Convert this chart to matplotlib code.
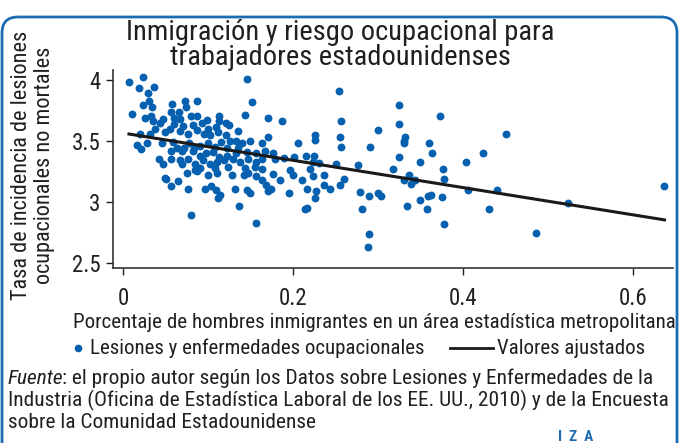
import numpy as np
import matplotlib.pyplot as plt
from matplotlib.patches import FancyBboxPatch
from matplotlib.lines import Line2D
from matplotlib.transforms import IdentityTransform

plt.rcParams['font.family'] = ['Roboto Condensed', 'DejaVu Sans']

# share of immigrant men in the metro area (x) and injury rate (y)
share_immig = [
    0.007, 0.023, 0.019, 0.037, 0.029, 0.146, 0.152, 0.011, 0.023, 0.030,
    0.034, 0.026, 0.033, 0.035, 0.058, 0.073, 0.087, 0.056, 0.066, 0.074,
    0.144, 0.170, 0.187, 0.047, 0.060, 0.067, 0.080, 0.087, 0.093, 0.099,
    0.113, 0.113, 0.121, 0.125, 0.109, 0.100, 0.060, 0.071, 0.082, 0.044,
    0.055, 0.049, 0.038, 0.020, 0.032, 0.067, 0.076, 0.087, 0.095, 0.102,
    0.112, 0.121, 0.135, 0.126, 0.133, 0.149, 0.164, 0.171, 0.206, 0.016,
    0.021, 0.028, 0.046, 0.059, 0.063, 0.072, 0.078, 0.084, 0.091, 0.100,
    0.108, 0.115, 0.122, 0.135, 0.140, 0.056, 0.069, 0.082, 0.091, 0.098,
    0.106, 0.113, 0.122, 0.133, 0.146, 0.157, 0.167, 0.177, 0.189, 0.201,
    0.042, 0.047, 0.057, 0.067, 0.076, 0.085, 0.094, 0.102, 0.111, 0.119,
    0.129, 0.138, 0.147, 0.157, 0.164, 0.179, 0.069, 0.091, 0.108, 0.124,
    0.144, 0.155, 0.164, 0.087, 0.100, 0.110, 0.128, 0.142, 0.147, 0.157,
    0.177, 0.185, 0.197, 0.200, 0.049, 0.051, 0.056, 0.065, 0.075, 0.077,
    0.097, 0.104, 0.109, 0.114, 0.112, 0.132, 0.146, 0.149, 0.163, 0.168,
    0.170, 0.174, 0.195, 0.137, 0.080, 0.156, 0.085,
    # right part
    0.254, 0.325, 0.373, 0.256, 0.325, 0.300, 0.226, 0.226, 0.255, 0.257,
    0.290, 0.332, 0.331, 0.331, 0.360, 0.363, 0.424, 0.215, 0.225, 0.224,
    0.231, 0.251, 0.276, 0.325, 0.349, 0.403, 0.318, 0.220, 0.211, 0.223,
    0.237, 0.260, 0.255, 0.236, 0.244, 0.227, 0.217, 0.226, 0.336, 0.330,
    0.339, 0.344, 0.376, 0.378, 0.406, 0.279, 0.289, 0.300, 0.304, 0.281,
    0.334, 0.349, 0.359, 0.362, 0.375, 0.358, 0.378, 0.214, 0.217, 0.289,
    0.288,
    0.450, 0.440, 0.431, 0.486, 0.523, 0.637,
]
injury_rate = [
    3.98, 4.02, 3.93, 3.94, 3.89, 4.01, 3.82, 3.72, 3.79, 3.83,
    3.78, 3.69, 3.70, 3.66, 3.80, 3.83, 3.83, 3.74, 3.74, 3.78,
    3.71, 3.69, 3.66, 3.68, 3.69, 3.68, 3.70, 3.70, 3.65, 3.67,
    3.70, 3.66, 3.65, 3.63, 3.61, 3.60, 3.64, 3.62, 3.63, 3.65,
    3.60, 3.57, 3.60, 3.56, 3.56, 3.58, 3.56, 3.59, 3.56, 3.55,
    3.57, 3.55, 3.58, 3.50, 3.50, 3.50, 3.48, 3.53, 3.48, 3.47,
    3.43, 3.48, 3.48, 3.49, 3.44, 3.44, 3.48, 3.44, 3.46, 3.48,
    3.45, 3.49, 3.44, 3.44, 3.48, 3.42, 3.42, 3.42, 3.38, 3.40,
    3.41, 3.37, 3.38, 3.40, 3.41, 3.40, 3.42, 3.40, 3.36, 3.37,
    3.35, 3.31, 3.35, 3.34, 3.35, 3.31, 3.34, 3.31, 3.33, 3.34,
    3.35, 3.33, 3.35, 3.33, 3.35, 3.35, 3.31, 3.28, 3.28, 3.29,
    3.28, 3.29, 3.27, 3.25, 3.22, 3.24, 3.22, 3.22, 3.24, 3.21,
    3.23, 3.18, 3.26, 3.22, 3.20, 3.19, 3.13, 3.17, 3.24, 3.11,
    3.11, 3.13, 3.10, 3.06, 3.03, 3.11, 3.10, 3.07, 3.18, 3.14,
    3.09, 3.11, 3.07, 2.97, 2.89, 2.83, 3.26,
    # right part
    3.91, 3.79, 3.70, 3.66, 3.64, 3.59, 3.55, 3.51, 3.53, 3.45,
    3.45, 3.53, 3.50, 3.48, 3.48, 3.40, 3.40, 3.38, 3.38, 3.33,
    3.32, 3.31, 3.30, 3.37, 3.33, 3.33, 3.27, 3.27, 3.18, 3.21,
    3.22, 3.19, 3.14, 3.14, 3.11, 3.09, 3.11, 3.03, 3.22, 3.18,
    3.15, 3.18, 3.27, 3.19, 3.10, 3.08, 3.05, 3.07, 3.05, 2.94,
    2.97, 3.02, 3.05, 3.06, 3.04, 2.94, 2.82, 2.94, 2.95, 2.74,
    2.63,
    3.56, 3.10, 2.94, 2.75, 2.99, 3.13,
]

# fitted line
fit_intercept = 3.564
fit_slope = -1.115

x_ticks = [0, 0.2, 0.4, 0.6]
x_ticklabels = ['0', '0.2', '0.4', '0.6']
y_ticks = [2.5, 3, 3.5, 4]
y_ticklabels = ['2.5', '3', '3.5', '4']

title = 'Inmigración y riesgo ocupacional para\ntrabajadores estadounidenses'
ylab = 'Tasa de incidencia de lesiones\nocupacionales no mortales'
xlab = 'Porcentaje de hombres inmigrantes en un área estadística metropolitana'
leg_labels = ['Lesiones y enfermedades ocupacionales', 'Valores ajustados']
source_lines = [': el propio autor según los Datos sobre Lesiones y Enfermedades de la',
                'Industria (Oficina de Estadística Laboral de los EE. UU., 2010) y de la Encuesta',
                'sobre la Comunidad Estadounidense']

blue = '#0560b0'
txt = '#231f20'
fit_col = '#1a1a1a'

x = np.array(share_immig)
y = np.array(injury_rate)

fig = plt.figure(figsize=(6.8, 4.43), dpi=100)
W, H = 680, 443
ax = fig.add_axes([113/W, 1-268/H, (673-113)/W, (268-70)/H])

ax.scatter(x, y, s=32, color=blue, linewidths=0, zorder=2)
xl = np.array([x.min(), x.max()])
ax.plot(xl, fit_intercept + fit_slope*xl, color=fit_col, lw=2.2, zorder=3)

ax.set_xlim(-0.0118, 0.647)
ax.set_ylim(2.46, 4.08)
ax.set_xticks(x_ticks)
ax.set_xticklabels(x_ticklabels)
ax.set_yticks(y_ticks)
ax.set_yticklabels(y_ticklabels)
ax.tick_params(axis='x', length=5, width=1, pad=9, labelsize=16.5, colors=txt)
ax.tick_params(axis='y', length=5, width=1, pad=4, labelsize=16.5, colors=txt)
for s in ['top', 'right']:
    ax.spines[s].set_visible(False)
for s in ['left', 'bottom']:
    ax.spines[s].set_color('#333333')
    ax.spines[s].set_linewidth(1.2)

fig.text(0.5, 1-45/H, title, ha='center', va='center', fontsize=20.5,
         linespacing=0.95, color=txt)
fig.text(33/W, 1-165/H, ylab, ha='center', va='center', rotation=90,
         fontsize=16, linespacing=1.08, color=txt)
fig.text(374/W, 1-323/H, xlab, ha='center', va='center', fontsize=15.1, color=txt)

# legend, laid out by hand: small dot close to its text, long line sample
leg_y = 1-348/H
fig.add_artist(Line2D([78/W], [leg_y], ls='none', marker='o', ms=4.5, color=blue,
                      transform=fig.transFigure))
fig.text(90/W, leg_y, leg_labels[0], va='center', fontsize=15, color=txt)
fig.add_artist(Line2D([450/W, 493/W], [leg_y, leg_y], color=fit_col, lw=2,
                      transform=fig.transFigure))
fig.text(497/W, leg_y, leg_labels[1], va='center', fontsize=15, color=txt)

# footer
t = fig.text(8/W, 1-384/H, 'Fuente', style='italic', fontsize=15.4,
             va='baseline', color=txt)
fig.canvas.draw()
bb = t.get_window_extent()
fig.text((bb.x1-2)/W, 1-384/H, source_lines[0], fontsize=15.4, va='baseline', color=txt)
for i, line in enumerate(source_lines[1:]):
    fig.text(8/W, 1-(406+22*i)/H, line, fontsize=15.4, va='baseline', color=txt)

# rounded frame
frame = FancyBboxPatch((2, -20), 675, H-17+20, boxstyle='round,pad=0,rounding_size=16',
                       transform=IdentityTransform(), fill=False, ec='#1d6cb4', lw=2)
fig.add_artist(frame)
fig.text(576/W, 1-437/H, 'I  Z  A', color='#1d6cb4', fontsize=11, fontweight='bold',
         ha='center', va='center')

fig.savefig('out.png', dpi=100)
